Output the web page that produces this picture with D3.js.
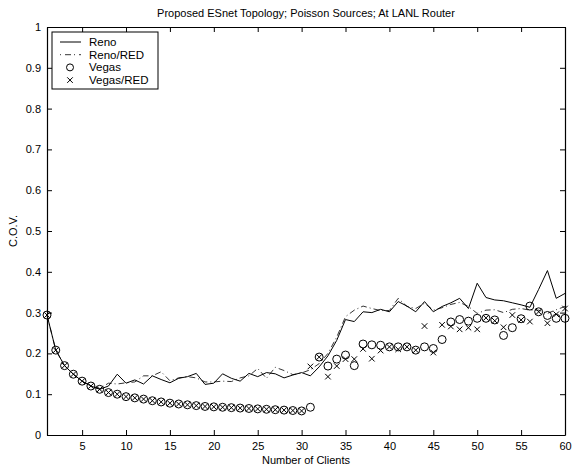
<!DOCTYPE html>
<html>
<head>
<meta charset="utf-8">
<script src="https://cdn.jsdelivr.net/npm/d3@7"></script>
<style>
  body { margin: 0; background: #fff; }
  text { font-family: "Liberation Sans", Arial, sans-serif; fill: #000; }
</style>
</head>
<body>
<svg id="chart" width="574" height="469"></svg>
<script>
// number of clients, 1..60
const clients = d3.range(1, 61)

const reno = [0.294, 0.208, 0.170, 0.149, 0.132, 0.120, 0.112, 0.120, 0.149, 0.127,
  0.135, 0.125, 0.145, 0.136, 0.128, 0.139, 0.143, 0.151, 0.124, 0.127,
  0.150, 0.139, 0.132, 0.151, 0.143, 0.153, 0.150, 0.140, 0.147, 0.153,
  0.145, 0.167, 0.194, 0.232, 0.283, 0.278, 0.302, 0.300, 0.308, 0.302,
  0.327, 0.316, 0.302, 0.327, 0.302, 0.315, 0.324, 0.335, 0.310, 0.372,
  0.337, 0.331, 0.329, 0.324, 0.319, 0.313, 0.357, 0.403, 0.335, 0.347]

const renoRed = [0.294, 0.208, 0.170, 0.149, 0.132, 0.120, 0.114, 0.127, 0.125, 0.128,
  0.130, 0.145, 0.145, 0.155, 0.133, 0.140, 0.143, 0.140, 0.130, 0.130,
  0.132, 0.131, 0.140, 0.145, 0.163, 0.139, 0.166, 0.158, 0.148, 0.152,
  0.160, 0.175, 0.200, 0.240, 0.290, 0.306, 0.316, 0.310, 0.305, 0.305,
  0.335, 0.315, 0.310, 0.323, 0.306, 0.312, 0.320, 0.325, 0.315, 0.298,
  0.306, 0.307, 0.300, 0.308, 0.310, 0.306, 0.306, 0.298, 0.307, 0.315]

const vegas = [0.294, 0.208, 0.170, 0.149, 0.132, 0.120, 0.112, 0.104, 0.100, 0.094,
  0.091, 0.088, 0.084, 0.081, 0.078, 0.076, 0.074, 0.072, 0.070, 0.069,
  0.068, 0.067, 0.066, 0.065, 0.064, 0.063, 0.062, 0.061, 0.060, 0.059,
  0.068, 0.191, 0.169, 0.186, 0.196, 0.170, 0.223, 0.221, 0.220, 0.216,
  0.216, 0.216, 0.208, 0.216, 0.212, 0.234, 0.277, 0.283, 0.279, 0.286,
  0.286, 0.282, 0.244, 0.263, 0.285, 0.316, 0.302, 0.293, 0.286, 0.286]

const vegasRed = [0.294, 0.208, 0.170, 0.149, 0.132, 0.120, 0.112, 0.104, 0.100, 0.094,
  0.091, 0.088, 0.084, 0.081, 0.078, 0.076, 0.074, 0.072, 0.070, 0.069,
  0.068, 0.067, 0.066, 0.065, 0.064, 0.063, 0.062, 0.061, 0.060, 0.059,
  0.168, 0.191, 0.143, 0.169, 0.186, 0.186, 0.211, 0.187, 0.207, 0.216,
  0.210, 0.216, 0.208, 0.267, 0.202, 0.270, 0.266, 0.259, 0.263, 0.259,
  0.287, 0.280, 0.264, 0.294, 0.282, 0.278, 0.302, 0.274, 0.296, 0.310]

const xTicks = d3.range(5, 61, 5)
const yTicks = d3.range(0, 11).map(d => d / 10)
const seriesNames = ['Reno', 'Reno/RED', 'Vegas', 'Vegas/RED']

const margin = { top: 27, right: 9, bottom: 34, left: 47 }
const width = 574, height = 469
const svg = d3.select('#chart')

const x = d3.scaleLinear().domain([1, 60]).range([margin.left, width - margin.right])
const y = d3.scaleLinear().domain([0, 1]).range([height - margin.bottom, margin.top])

// frame with inward ticks on all four sides
const tickLen = 5
svg.append('g')
  .attr('transform', `translate(0,${y(0)})`)
  .call(d3.axisBottom(x).tickValues(xTicks).tickSizeInner(-tickLen).tickSizeOuter(0).tickPadding(7))
svg.append('g')
  .attr('transform', `translate(0,${y(1)})`)
  .call(d3.axisTop(x).tickValues(xTicks).tickSizeInner(-tickLen).tickSizeOuter(0).tickFormat(''))
svg.append('g')
  .attr('transform', `translate(${x(1)},0)`)
  .call(d3.axisLeft(y).tickValues(yTicks).tickSizeInner(-tickLen).tickSizeOuter(0).tickPadding(6)
    .tickFormat(d => d === 0 || d === 1 ? d3.format('d')(d) : d3.format('.1f')(d)))
svg.append('g')
  .attr('transform', `translate(${x(60)},0)`)
  .call(d3.axisRight(y).tickValues(yTicks).tickSizeInner(-tickLen).tickSizeOuter(0).tickFormat(''))

svg.selectAll('.domain').attr('stroke', '#000').attr('stroke-width', 1.2)
svg.selectAll('.tick line').attr('stroke', '#000')
svg.selectAll('.tick text').style('font-size', '11px').style('font-family', '"Liberation Sans", Arial, sans-serif')

const line = d3.line().x((d, i) => x(clients[i])).y(d => y(d))

svg.append('path').datum(reno)
  .attr('d', line).attr('fill', 'none').attr('stroke', '#000').attr('stroke-width', 1)
svg.append('path').datum(renoRed)
  .attr('d', line).attr('fill', 'none').attr('stroke', '#000').attr('stroke-width', 0.8)
  .attr('stroke-dasharray', '6,3,1,3')

svg.append('g').selectAll('circle').data(vegas).join('circle')
  .attr('cx', (d, i) => x(clients[i])).attr('cy', d => y(d)).attr('r', 4)
  .attr('fill', 'none').attr('stroke', '#000').attr('stroke-width', 1)

const cross = d3.symbol().type(d3.symbolX).size(22)
svg.append('g').selectAll('path').data(vegasRed).join('path')
  .attr('transform', (d, i) => `translate(${x(clients[i])},${y(d)})`)
  .attr('d', cross).attr('fill', 'none').attr('stroke', '#000').attr('stroke-width', 1)

// legend
const lg = svg.append('g').attr('transform', 'translate(52,32)')
lg.append('rect').attr('width', 106).attr('height', 57)
  .attr('fill', '#fff').attr('stroke', '#000').attr('stroke-width', 1)
seriesNames.forEach((name, i) => {
  const cy = 10 + i * 12.7
  if (i === 0) lg.append('line').attr('x1', 8).attr('x2', 29).attr('y1', cy).attr('y2', cy).attr('stroke', '#000')
  if (i === 1) lg.append('line').attr('x1', 8).attr('x2', 29).attr('y1', cy).attr('y2', cy).attr('stroke', '#000')
    .attr('stroke-dasharray', '1,4,6,3').attr('stroke-width', 0.8)
  if (i === 2) lg.append('circle').attr('cx', 18).attr('cy', cy).attr('r', 3.5).attr('fill', 'none').attr('stroke', '#000')
  if (i === 3) lg.append('path').attr('transform', `translate(18,${cy})`).attr('d', cross).attr('fill', 'none').attr('stroke', '#000')
  lg.append('text').attr('x', 37).attr('y', cy + 4).style('font-size', '11.5px').text(name)
})

svg.append('text').attr('x', (x(1) + x(60)) / 2).attr('y', 17).attr('text-anchor', 'middle')
  .style('font-size', '11px').text('Proposed ESnet Topology; Poisson Sources; At LANL Router')
svg.append('text').attr('x', (x(1) + x(60)) / 2).attr('y', 464).attr('text-anchor', 'middle')
  .style('font-size', '11px').text('Number of Clients')
svg.append('text').attr('transform', `translate(17,${(y(0) + y(1)) / 2}) rotate(-90)`).attr('text-anchor', 'middle')
  .style('font-size', '11px').text('C.O.V.')
</script>
</body>
</html>
